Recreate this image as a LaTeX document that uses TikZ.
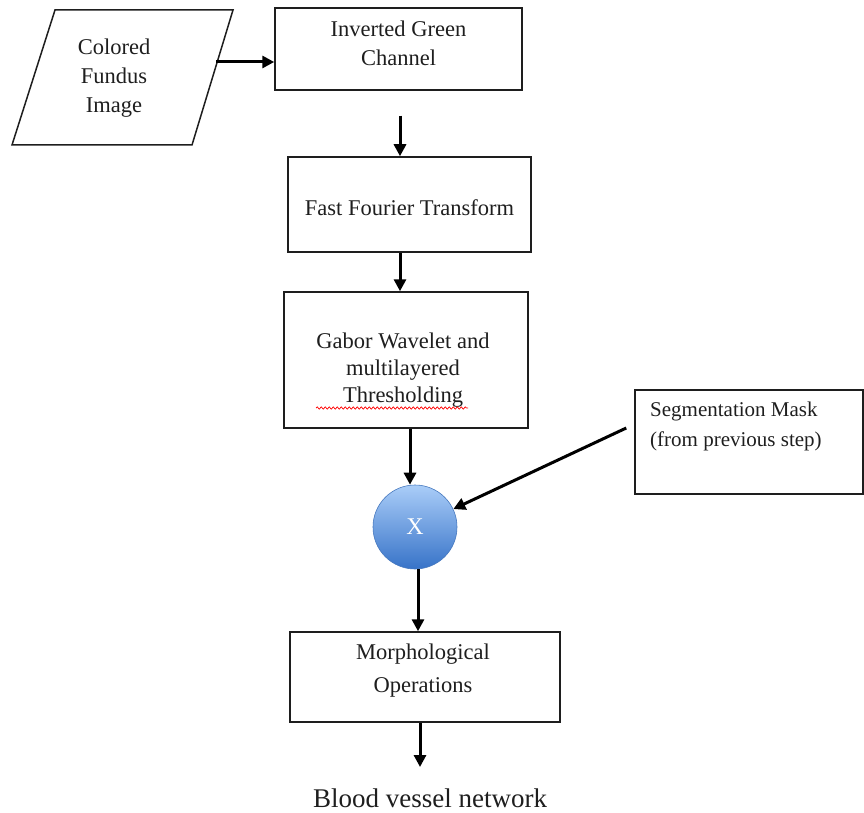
\documentclass[tikz,border=0pt]{standalone}
\usepackage{fontspec}
\setmainfont{Liberation Serif}
\usetikzlibrary{arrows.meta,decorations.pathmorphing,calc}
\definecolor{balltop}{RGB}{170,205,248}
\definecolor{ballbot}{RGB}{55,115,200}
\definecolor{ballrim}{RGB}{70,120,190}
\definecolor{ink}{RGB}{30,30,30}
\begin{document}
\begin{tikzpicture}[x=1pt,y=-1pt,
  box/.style={draw=ink, line width=1.5pt, rectangle, inner sep=0pt},
  txt/.style={align=center, font=\fontsize{22.5}{29}\selectfont, inner sep=0pt, text=ink},
  arr/.style={-{Triangle[length=12pt,width=12pt]}, line width=3pt}]
\useasboundingbox (0,0) rectangle (864,813);

% input parallelogram
\draw[draw=ink, line width=1.5pt] (55,10) -- (233,10) -- (192,145) -- (12,145) -- cycle;
\node[txt] (imgtxt) at (114,78) {Colored\\Fundus\\Image};
\coordinate (pr) at (216,62);

% boxes
\node[box, minimum width=247pt, minimum height=82pt] (igc) at (398.5,49) {};
\node[txt] (igctxt) at (398.5,43) {Inverted Green\\Channel};

\node[box, minimum width=243pt, minimum height=95pt] (fft) at (409.5,204.5) {};
\node[txt] (ffttxt) at (409.5,208) {Fast Fourier Transform};

\node[box, minimum width=244pt, minimum height=136pt] (gab) at (406,360) {};
\node[txt, font=\fontsize{22.5}{27}\selectfont] (gabtxt) at (403,370) {Gabor Wavelet and\\multilayered\\Thresholding};
\draw[red, line width=0.7pt, decorate, decoration={snake, amplitude=1.2pt, segment length=4pt}] (316,408) -- (468,408);

\node[circle, minimum size=84pt, inner sep=0pt, draw=ballrim, line width=0.6pt,
      top color=balltop, bottom color=ballbot, text=white,
      font=\fontsize{24}{24}\selectfont] (x) at (415,527) {X};

\node[box, minimum width=228pt, minimum height=104pt] (seg) at (749,442) {};
\node[align=left, anchor=north west, inner sep=0pt, text=ink, font=\fontsize{21}{30}\selectfont] (segtxt) at (650,402) {Segmentation Mask\\(from previous step)};

\node[box, minimum width=270pt, minimum height=90pt] (mor) at (425,677) {};
\node[txt, font=\fontsize{22.5}{33}\selectfont] (mortxt) at (423,671) {Morphological\\Operations};

\node[inner sep=0pt, text=ink, font=\fontsize{27}{27}\selectfont] (out) at (430,798) {Blood vessel network};
\coordinate (outend) at (420,767);

% connectors
\draw[arr] (pr) -- (pr -| igc.west);
\draw[arr] ($(igc.south)+(1.5,25)$) -- ($(fft.north)+(-9.5,0)$);
\draw[arr] ($(fft.south)+(-9.5,0)$) -- ($(gab.north)+(-6,0)$);
\draw[arr] ($(gab.south)+(4,0)$) -- ($(x.north)+(-5,0)$);
\draw[arr] ([shift={(-8pt,14pt)}]seg.west) -- (x);
\draw[arr] ($(x.south)+(3,0)$) -- ($(mor.north)+(-7,0)$);
\draw[arr] ($(mor.south)+(-5,0)$) -- (outend);
\end{tikzpicture}
\end{document}
